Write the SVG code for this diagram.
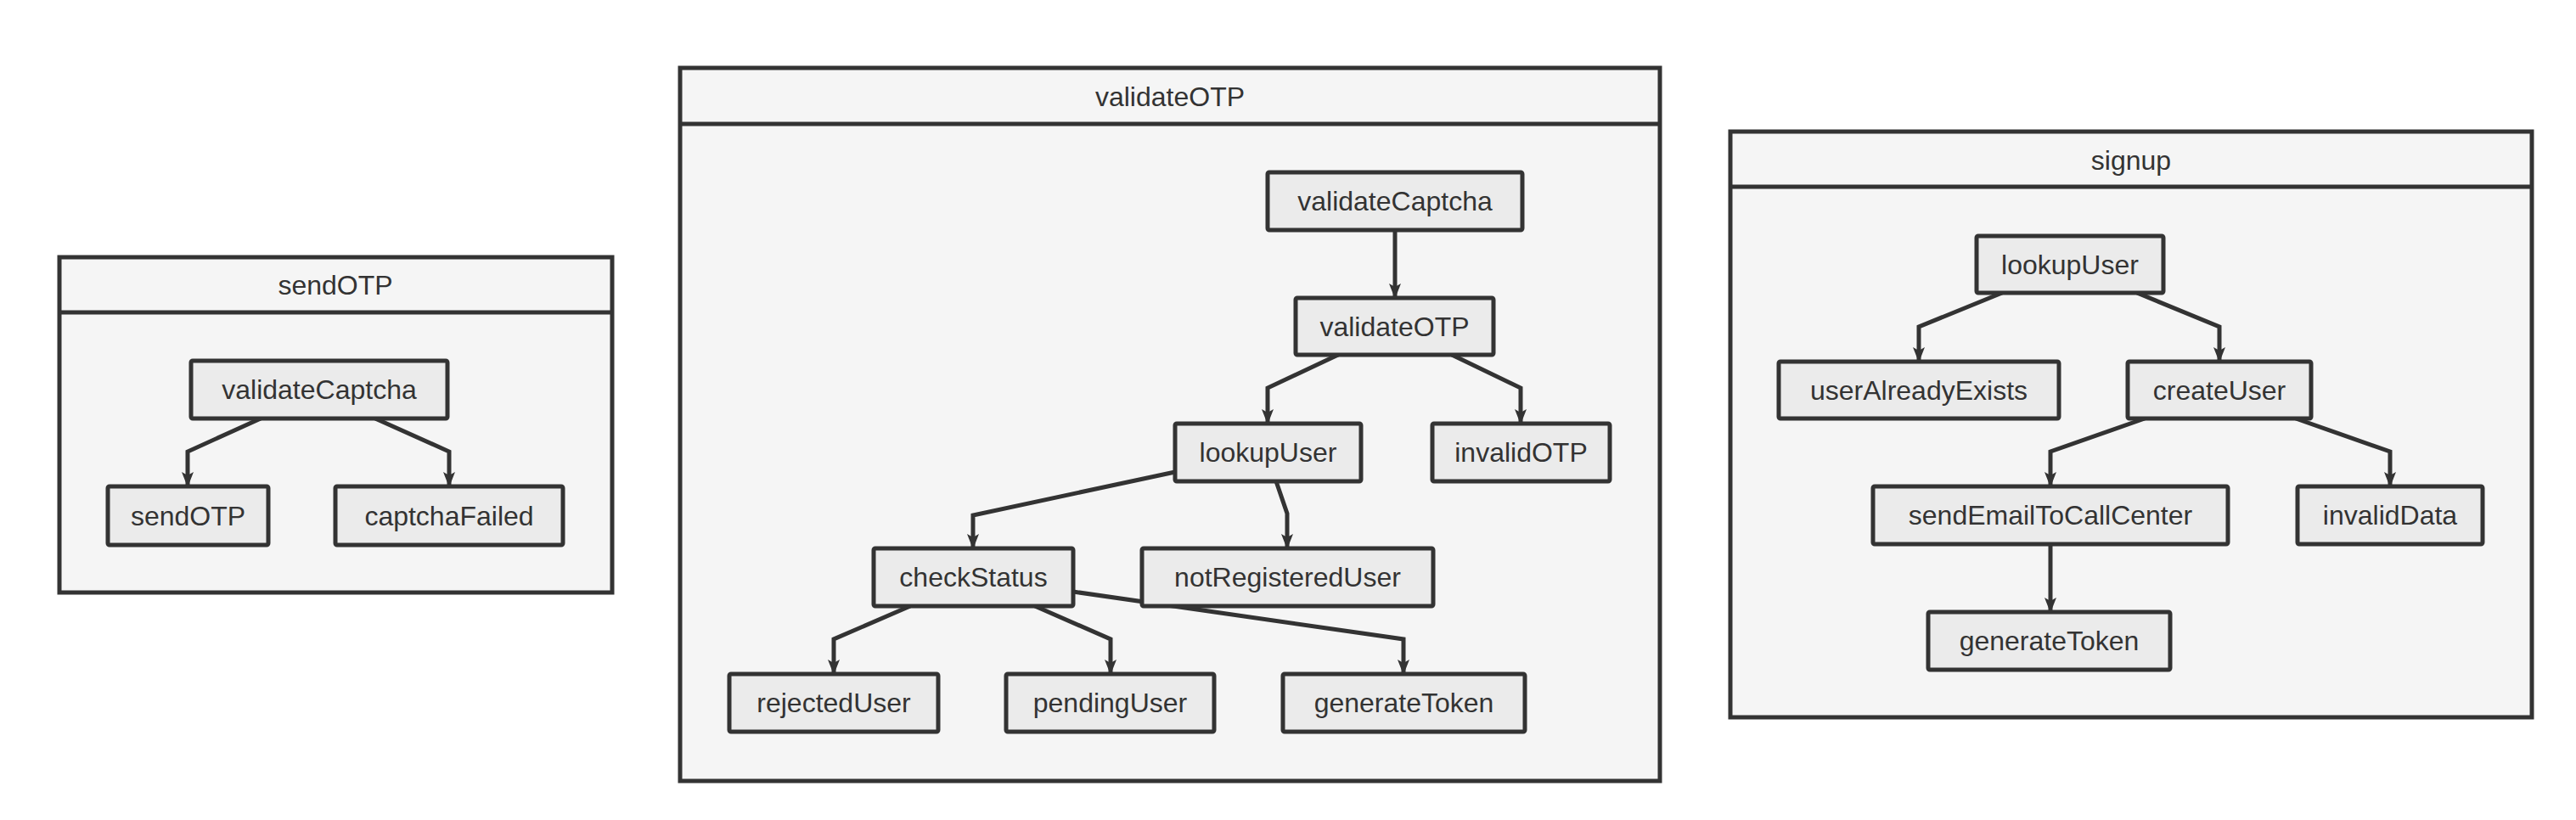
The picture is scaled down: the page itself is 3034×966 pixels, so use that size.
<svg xmlns="http://www.w3.org/2000/svg" width="3034" height="966" viewBox="0 0 3034 966">
<style>
.cl{fill:#f5f5f5;stroke:#333;stroke-width:5}
.div{stroke:#333;stroke-width:5}
.nd{fill:#ebebeb;stroke:#333;stroke-width:5}
.t{font-family:"Liberation Sans",Arial,sans-serif;font-size:32px;fill:#333;text-anchor:middle;dominant-baseline:central}
.e{fill:none;stroke:#333;stroke-width:5;stroke-linejoin:miter;marker-end:url(#ah)}
</style>
<defs>
<marker id="ah" markerUnits="userSpaceOnUse" markerWidth="18" markerHeight="14" refX="17" refY="7" orient="auto" viewBox="0 0 18 14">
<path d="M0,0 L18,7 L0,14 L4,7 z" fill="#333"/>
</marker>
</defs>
<rect width="3034" height="966" fill="#ffffff"/>

<g id="cluster-sendOTP">
<rect class="cl" x="70" y="303" width="651" height="395"/>
<line class="div" x1="70" y1="368" x2="721" y2="368"/>
<text class="t" x="395" y="336">sendOTP</text>
</g>
<g id="cluster-validateOTP">
<rect class="cl" x="801" y="80" width="1154" height="840"/>
<line class="div" x1="801" y1="146" x2="1955" y2="146"/>
<text class="t" x="1378" y="114">validateOTP</text>
</g>
<g id="cluster-signup">
<rect class="cl" x="2038" y="155" width="944" height="690"/>
<line class="div" x1="2038" y1="220" x2="2982" y2="220"/>
<text class="t" x="2510" y="189">signup</text>
</g>

<g id="connectors">
<path class="e" d="M307,493 L221,532 L221,573"/>
<path class="e" d="M442,493 L529,532 L529,573"/>

<path class="e" d="M1643,271 L1643,351"/>
<path class="e" d="M1576,418 L1493,457 L1493,499"/>
<path class="e" d="M1710,418 L1791,457 L1791,499"/>
<path class="e" d="M1384,556 L1146,607 L1146,646"/>
<path class="e" d="M1503,567 L1516,605 L1516,646"/>
<path class="e" d="M1072,714 L982,753 L982,794"/>
<path class="e" d="M1219,714 L1308,753 L1308,794"/>
<path class="e" d="M1264,697 L1653,753 L1653,794"/>

<path class="e" d="M2358,345 L2260,385 L2260,426"/>
<path class="e" d="M2517,345 L2614,385 L2614,426"/>
<path class="e" d="M2526,493 L2415,532 L2415,573"/>
<path class="e" d="M2704,493 L2815,532 L2815,573"/>
<path class="e" d="M2415,641 L2415,721"/>
</g>

<g id="so-validateCaptcha"><rect class="nd" x="225" y="425" width="302" height="68" rx="2"/><text class="t" x="376" y="459">validateCaptcha</text></g>
<g id="so-sendOTP"><rect class="nd" x="127" y="573" width="189" height="69" rx="2"/><text class="t" x="221.5" y="607.5">sendOTP</text></g>
<g id="so-captchaFailed"><rect class="nd" x="395" y="573" width="268" height="69" rx="2"/><text class="t" x="529" y="607.5">captchaFailed</text></g>

<g id="vo-validateCaptcha"><rect class="nd" x="1493" y="203" width="300" height="68" rx="2"/><text class="t" x="1643" y="237">validateCaptcha</text></g>
<g id="vo-validateOTP"><rect class="nd" x="1526" y="351" width="233" height="67" rx="2"/><text class="t" x="1642.5" y="384.5">validateOTP</text></g>
<g id="vo-lookupUser"><rect class="nd" x="1384" y="499" width="219" height="68" rx="2"/><text class="t" x="1493.5" y="533">lookupUser</text></g>
<g id="vo-invalidOTP"><rect class="nd" x="1687" y="499" width="209" height="68" rx="2"/><text class="t" x="1791.5" y="533">invalidOTP</text></g>
<g id="vo-checkStatus"><rect class="nd" x="1029" y="646" width="235" height="68" rx="2"/><text class="t" x="1146.5" y="680">checkStatus</text></g>
<g id="vo-notRegisteredUser"><rect class="nd" x="1345" y="646" width="343" height="68" rx="2"/><text class="t" x="1516.5" y="680">notRegisteredUser</text></g>
<g id="vo-rejectedUser"><rect class="nd" x="859" y="794" width="246" height="68" rx="2"/><text class="t" x="982" y="828">rejectedUser</text></g>
<g id="vo-pendingUser"><rect class="nd" x="1185" y="794" width="245" height="68" rx="2"/><text class="t" x="1307.5" y="828">pendingUser</text></g>
<g id="vo-generateToken"><rect class="nd" x="1511" y="794" width="285" height="68" rx="2"/><text class="t" x="1653.5" y="828">generateToken</text></g>

<g id="su-lookupUser"><rect class="nd" x="2328" y="278" width="220" height="67" rx="2"/><text class="t" x="2438" y="311.5">lookupUser</text></g>
<g id="su-userAlreadyExists"><rect class="nd" x="2095" y="426" width="330" height="67" rx="2"/><text class="t" x="2260" y="459.5">userAlreadyExists</text></g>
<g id="su-createUser"><rect class="nd" x="2506" y="426" width="216" height="67" rx="2"/><text class="t" x="2614" y="459.5">createUser</text></g>
<g id="su-sendEmailToCallCenter"><rect class="nd" x="2206" y="573" width="418" height="68" rx="2"/><text class="t" x="2415" y="607">sendEmailToCallCenter</text></g>
<g id="su-invalidData"><rect class="nd" x="2706" y="573" width="218" height="68" rx="2"/><text class="t" x="2815" y="607">invalidData</text></g>
<g id="su-generateToken"><rect class="nd" x="2271" y="721" width="285" height="68" rx="2"/><text class="t" x="2413.5" y="755">generateToken</text></g>
</svg>
